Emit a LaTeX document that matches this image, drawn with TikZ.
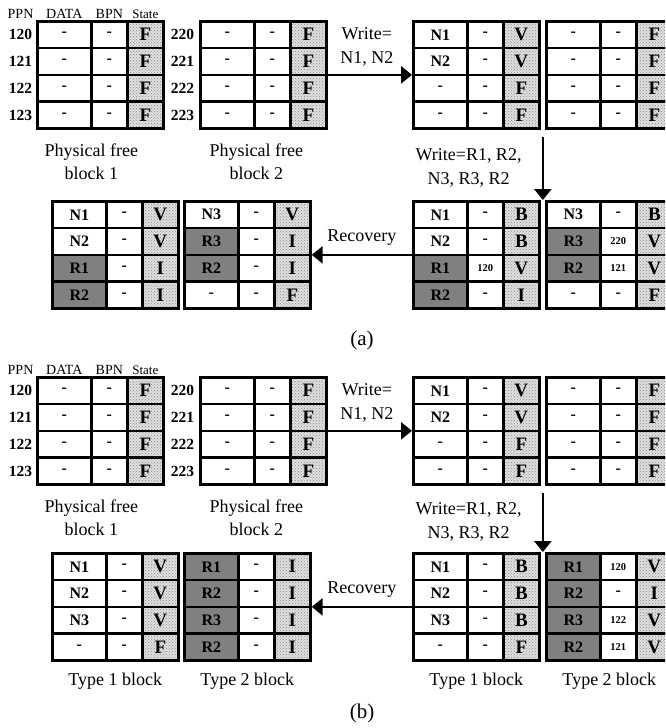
\documentclass[tikz,border=0pt]{standalone}
\usepackage{fontspec}
\setmainfont{Liberation Serif}
\usetikzlibrary{
    positioning,
    matrix,
    arrows.meta,
    calc,
    patterns
}

\begin{document}
\begin{tikzpicture}[
    x=1pt, y=-1pt,
    datacell/.style={
        draw, line width=2.7pt, rectangle, anchor=center, inner sep=0pt,
        outer sep=0pt, minimum height=26.75pt, fill=white,
        font=\fontsize{16}{18}\selectfont\bfseries
    },
    statecell/.style={
        datacell, minimum width=36pt, preaction={fill=gray!25},
        pattern=crosshatch dots, pattern color=gray!90,
        font=\fontsize{19}{21}\selectfont\bfseries
    },
    relcell/.style={fill=black!50},
    bpncell/.style={font=\fontsize{10.5}{12}\selectfont\bfseries},
    % cells share their borders
    flashblock/.style={
        matrix of nodes, anchor=north west, inner sep=0pt, outer sep=0pt,
        column sep=-2.7pt, row sep=-2.7pt,
        nodes={datacell},
        column 1/.style={nodes={minimum width=54pt}},
        column 2/.style={nodes={minimum width=36pt}},
        column 3/.style={nodes={statecell}}
    },
    ppnlbl/.style={inner sep=0pt, font=\fontsize{15.5}{17}\selectfont\bfseries},
    hdr/.style={inner sep=0pt, font=\fontsize{14}{16}\selectfont},
    blkcap/.style={inner sep=0pt, align=center, font=\fontsize{18}{23}\selectfont},
    flowlbl/.style={inner sep=0pt, align=center, font=\fontsize{18}{24}\selectfont},
    panellbl/.style={inner sep=0pt, font=\fontsize{21}{24}\selectfont},
    arrow/.style={line width=2.7pt, -{Triangle[length=11pt,width=17pt]}}
]

% page frame (y runs downwards)
\useasboundingbox (0,0) rectangle (665,728);
\clip (0,0) rectangle (665,728);

% ============================== PANEL (a) ==============================
% (a): Physical free blocks
\matrix[flashblock] (fa1) at (36,20) {
    - & - & F \\
    - & - & F \\
    - & - & F \\
    - & - & F \\
};
\matrix[flashblock] (fa2) at (199,20) {
    - & - & F \\
    - & - & F \\
    - & - & F \\
    - & - & F \\
};

\node[ppnlbl, left=5pt of fa1-1-1] (fa1_p1) {120};
\node[ppnlbl, left=5pt of fa1-2-1] (fa1_p2) {121};
\node[ppnlbl, left=5pt of fa1-3-1] (fa1_p3) {122};
\node[ppnlbl, left=5pt of fa1-4-1] (fa1_p4) {123};
\node[ppnlbl, left=6pt of fa2-1-1] (fa2_p1) {220};
\node[ppnlbl, left=6pt of fa2-2-1] (fa2_p2) {221};
\node[ppnlbl, left=6pt of fa2-3-1] (fa2_p3) {222};
\node[ppnlbl, left=6pt of fa2-4-1] (fa2_p4) {223};

\node[hdr, above=3pt of fa1-1-1] (hd_data_a) {DATA};
\node[hdr, above=3pt of fa1-1-2] (hd_bpn_a) {BPN};
\node[hdr, above=3pt of fa1-1-3, font=\fontsize{13}{15}\selectfont] (hd_state_a) {State};
\node[hdr] (hd_ppn_a) at (fa1_p1 |- hd_data_a) {PPN};

\node[blkcap, below=14pt of fa1, xshift=-9pt] (cap_fa1) {Physical free\\block 1};
\node[blkcap, below=14pt of fa2, xshift=-7pt] (cap_fa2) {Physical free\\block 2};

% (a): after writing N1, N2
\matrix[flashblock] (na3) at (412,20) {
    N1 & - & V \\
    N2 & - & V \\
    -  & - & F \\
    -  & - & F \\
};
\matrix[flashblock] (na4) at (545,20) {
    - & - & F \\
    - & - & F \\
    - & - & F \\
    - & - & F \\
};

% (a): after writing R1, R2, N3, R3, R2
\matrix[flashblock] (wa3) at (412,200) {
    N1 & - & B \\
    N2 & - & B \\
    |[relcell]| R1 & |[bpncell]| 120 & V \\
    |[relcell]| R2 & - & I \\
};
\matrix[flashblock] (wa4) at (545,200) {
    N3 & - & B \\
    |[relcell]| R3 & |[bpncell]| 220 & V \\
    |[relcell]| R2 & |[bpncell]| 121 & V \\
    - & - & F \\
};

% (a): after recovery
\matrix[flashblock] (ra1) at (51,200) {
    N1 & - & V \\
    N2 & - & V \\
    |[relcell]| R1 & - & I \\
    |[relcell]| R2 & - & I \\
};
\matrix[flashblock] (ra2) at (183,200) {
    N3 & - & V \\
    |[relcell]| R3 & - & I \\
    |[relcell]| R2 & - & I \\
    - & - & F \\
};

% (a): flow
\draw[arrow] (fa2.east) -- node[flowlbl, above=7pt, xshift=-3pt] (lbl_wa1) {Write=\\N1, N2} (na3.west);
\path ($(na3.south east)!0.5!(na4.south west)$) ++(0,7) coordinate (wa_from);
\draw[arrow] (wa_from) -- node[flowlbl, left=20pt] (lbl_wa2) {Write=R1, R2,\\N3, R3, R2} (wa_from |- wa3.north);
\draw[arrow] (wa3.west) -- node[flowlbl, above=8pt] (lbl_ra) {Recovery} (ra2.east);

\node[panellbl] (pan_a) at (362,340) {(a)};

% ============================== PANEL (b) ==============================
% (b): Physical free blocks
\matrix[flashblock] (fb1) at (36,376) {
    - & - & F \\
    - & - & F \\
    - & - & F \\
    - & - & F \\
};
\matrix[flashblock] (fb2) at (199,376) {
    - & - & F \\
    - & - & F \\
    - & - & F \\
    - & - & F \\
};

\node[ppnlbl, left=5pt of fb1-1-1] (fb1_p1) {120};
\node[ppnlbl, left=5pt of fb1-2-1] (fb1_p2) {121};
\node[ppnlbl, left=5pt of fb1-3-1] (fb1_p3) {122};
\node[ppnlbl, left=5pt of fb1-4-1] (fb1_p4) {123};
\node[ppnlbl, left=6pt of fb2-1-1] (fb2_p1) {220};
\node[ppnlbl, left=6pt of fb2-2-1] (fb2_p2) {221};
\node[ppnlbl, left=6pt of fb2-3-1] (fb2_p3) {222};
\node[ppnlbl, left=6pt of fb2-4-1] (fb2_p4) {223};

\node[hdr, above=3pt of fb1-1-1] (hd_data_b) {DATA};
\node[hdr, above=3pt of fb1-1-2] (hd_bpn_b) {BPN};
\node[hdr, above=3pt of fb1-1-3, font=\fontsize{13}{15}\selectfont] (hd_state_b) {State};
\node[hdr] (hd_ppn_b) at (fb1_p1 |- hd_data_b) {PPN};

\node[blkcap, below=14pt of fb1, xshift=-9pt] (cap_fb1) {Physical free\\block 1};
\node[blkcap, below=14pt of fb2, xshift=-7pt] (cap_fb2) {Physical free\\block 2};

% (b): after writing N1, N2
\matrix[flashblock] (nb3) at (412,376) {
    N1 & - & V \\
    N2 & - & V \\
    -  & - & F \\
    -  & - & F \\
};
\matrix[flashblock] (nb4) at (545,376) {
    - & - & F \\
    - & - & F \\
    - & - & F \\
    - & - & F \\
};

% (b): after writing R1, R2, N3, R3, R2
\matrix[flashblock] (wb3) at (412,552) {
    N1 & - & B \\
    N2 & - & B \\
    N3 & - & B \\
    -  & - & F \\
};
\matrix[flashblock] (wb4) at (545,552) {
    |[relcell]| R1 & |[bpncell]| 120 & V \\
    |[relcell]| R2 & - & I \\
    |[relcell]| R3 & |[bpncell]| 122 & V \\
    |[relcell]| R2 & |[bpncell]| 121 & V \\
};

% (b): after recovery
\matrix[flashblock] (rb1) at (51,552) {
    N1 & - & V \\
    N2 & - & V \\
    N3 & - & V \\
    -  & - & F \\
};
\matrix[flashblock] (rb2) at (183,552) {
    |[relcell]| R1 & - & I \\
    |[relcell]| R2 & - & I \\
    |[relcell]| R3 & - & I \\
    |[relcell]| R2 & - & I \\
};

\node[blkcap, below=11pt of wb3] (cap_wb3) {Type 1 block};
\node[blkcap, below=11pt of wb4] (cap_wb4) {Type 2 block};
\node[blkcap, below=11pt of rb1] (cap_rb1) {Type 1 block};
\node[blkcap, below=11pt of rb2] (cap_rb2) {Type 2 block};

% (b): flow
\draw[arrow] (fb2.east) -- node[flowlbl, above=7pt, xshift=-3pt] (lbl_wb1) {Write=\\N1, N2} (nb3.west);
\path ($(nb3.south east)!0.5!(nb4.south west)$) ++(0,7) coordinate (wb_from);
\draw[arrow] (wb_from) -- node[flowlbl, left=20pt] (lbl_wb2) {Write=R1, R2,\\N3, R3, R2} (wb_from |- wb3.north);
\draw[arrow] (wb3.west) -- node[flowlbl, above=8pt] (lbl_rb) {Recovery} (rb2.east);

\node[panellbl] (pan_b) at (362,713) {(b)};

\end{tikzpicture}
\end{document}
